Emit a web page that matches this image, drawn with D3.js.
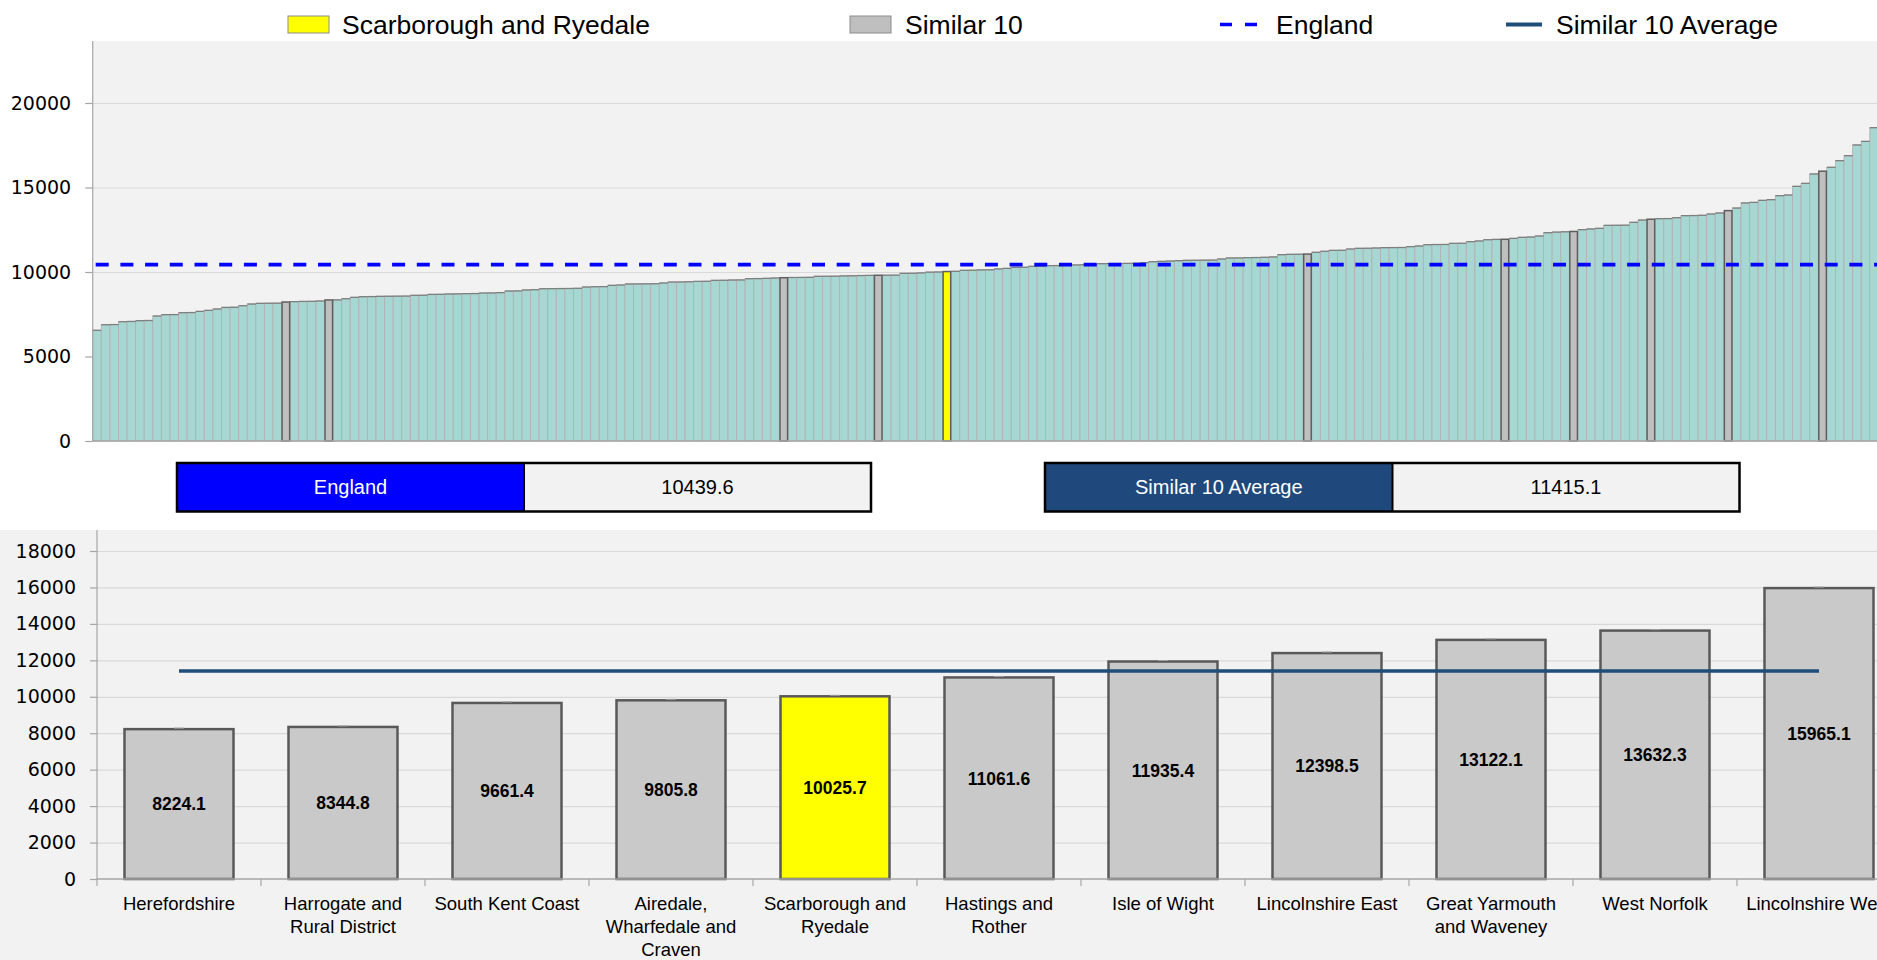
<!DOCTYPE html>
<html>
<head>
<meta charset="utf-8">
<script src="https://cdn.jsdelivr.net/npm/d3@7"></script>
<style>
  html, body { margin: 0; padding: 0; background: #ffffff; overflow: hidden; }
  svg { display: block; }
</style>
</head>
<body>
<svg id="chart" width="1877" height="960"></svg>
<script>
// ---------------- DATA ----------------
const topValues = [
  6550, 6880, 6890, 7060, 7075, 7120, 7130, 7395, 7475, 7480,
  7590, 7600, 7670, 7730, 7810, 7905, 7915, 8005, 8105, 8145,
  8150, 8155, 8224.1, 8245, 8260, 8265, 8285, 8344.8, 8350, 8420,
  8500, 8540, 8545, 8560, 8565, 8570, 8575, 8620, 8625, 8675,
  8680, 8700, 8705, 8720, 8725, 8755, 8760, 8780, 8875, 8880,
  8935, 8955, 9010, 9015, 9020, 9025, 9035, 9110, 9130, 9135,
  9210, 9230, 9290, 9295, 9300, 9305, 9350, 9405, 9410, 9425,
  9445, 9450, 9505, 9510, 9525, 9530, 9605, 9610, 9625, 9645,
  9661.4, 9675, 9680, 9685, 9745, 9748, 9752, 9770, 9775, 9790,
  9800, 9805.8, 9810, 9815, 9920, 9925, 9945, 9990, 10000, 10025.7,
  10040, 10100, 10105, 10125, 10130, 10180, 10215, 10275, 10280, 10335,
  10340, 10375, 10380, 10415, 10418, 10430, 10435, 10493, 10497, 10500,
  10510, 10515, 10555, 10610, 10630, 10650, 10670, 10690, 10695, 10700,
  10705, 10770, 10828, 10832, 10850, 10855, 10870, 10890, 11025, 11045,
  11050, 11061.6, 11165, 11225, 11280, 11285, 11360, 11400, 11405, 11420,
  11440, 11445, 11450, 11500, 11540, 11615, 11625, 11630, 11695, 11700,
  11795, 11835, 11910, 11930, 11935.4, 11990, 12050, 12070, 12130, 12325,
  12360, 12380, 12398.5, 12505, 12545, 12585, 12760, 12765, 12770, 12940,
  13075, 13122.1, 13155, 13160, 13215, 13335, 13340, 13355, 13430, 13490,
  13632.3, 13785, 14085, 14120, 14240, 14280, 14515, 14555, 15070, 15245,
  15800, 15965.1, 16195, 16590, 16885, 17515, 17730, 18540
];
const similarIndices = [22, 27, 80, 91, 141, 164, 172, 181, 190, 201];
const focusIndex = 99;

const similarNames = [
  "Herefordshire", "Harrogate and Rural District", "South Kent Coast",
  "Airedale, Wharfedale and Craven", "Scarborough and Ryedale", "Hastings and Rother",
  "Isle of Wight", "Lincolnshire East", "Great Yarmouth and Waveney",
  "West Norfolk", "Lincolnshire West"
];
const similarLabelLines = [
  ["Herefordshire"], ["Harrogate and", "Rural District"], ["South Kent Coast"],
  ["Airedale,", "Wharfedale and", "Craven"], ["Scarborough and", "Ryedale"],
  ["Hastings and", "Rother"], ["Isle of Wight"], ["Lincolnshire East"],
  ["Great Yarmouth", "and Waveney"], ["West Norfolk"], ["Lincolnshire West"]
];
const similarValues = [8224.1, 8344.8, 9661.4, 9805.8, 10025.7, 11061.6, 11935.4, 12398.5, 13122.1, 13632.3, 15965.1];
const focusName = "Scarborough and Ryedale";

const englandValue = 10439.6;
const similarAverage = 11415.1;

const topTicks = [0, 5000, 10000, 15000, 20000];
const bottomTicks = [0, 2000, 4000, 6000, 8000, 10000, 12000, 14000, 16000, 18000];

const legendLabels = ["Scarborough and Ryedale", "Similar 10", "England", "Similar 10 Average"];

// ---------------- STYLE ----------------
const FONT = "'Liberation Sans', Arial, sans-serif";
const AXFONT = "'DejaVu Sans', Verdana, sans-serif";
const C = {
  teal: "#a6d7d2", tealStroke: "#b2b2b2", tealTop: "#7f7f7f",
  gray: "#bfbfbf", grayStroke: "#5f5f5f",
  yellow: "#ffff00",
  bg: "#f2f2f2", grid: "#d9d9d9", axis: "#a6a6a6",
  england: "#0000ff", avg: "#1f4e79", navy: "#1f497d",
  botGray: "#c9c9c9", botStroke: "#595959"
};

const svg = d3.select("#chart");

// ---------------- LEGEND ----------------
const lg = svg.append("g");
const legY = 24.5;
lg.append("rect").attr("x", 288).attr("y", 16).attr("width", 41).attr("height", 17)
  .attr("fill", C.yellow).attr("stroke", "#8c8c8c").attr("stroke-width", 1);
lg.append("rect").attr("x", 850).attr("y", 16).attr("width", 41).attr("height", 17)
  .attr("fill", C.gray).attr("stroke", "#8c8c8c").attr("stroke-width", 1);
lg.append("line").attr("x1", 1220).attr("x2", 1257).attr("y1", legY).attr("y2", legY)
  .attr("stroke", C.england).attr("stroke-width", 3.5).attr("stroke-dasharray", "12,13");
lg.append("line").attr("x1", 1506).attr("x2", 1542).attr("y1", legY).attr("y2", legY)
  .attr("stroke", C.avg).attr("stroke-width", 4);
const legTextX = [342, 905, 1276, 1556];
legendLabels.forEach((t, i) => {
  lg.append("text").attr("x", legTextX[i]).attr("y", legY)
    .attr("dy", "0.36em").attr("font-family", FONT).attr("font-size", 26.5)
    .attr("fill", "#000").text(t);
});

// ---------------- TOP CHART ----------------
const T = { left: 92.7, top: 41, bottom: 441, right: 1877, step: 8.585 };
const xTop = d3.scaleBand().domain(d3.range(topValues.length))
  .range([T.left, T.left + topValues.length * T.step]).padding(0);
const yTop = d3.scaleLinear().domain([0, 20000]).range([T.bottom, 103]);

const gt = svg.append("g");
gt.append("rect").attr("x", T.left).attr("y", T.top)
  .attr("width", T.right - T.left).attr("height", T.bottom - T.top).attr("fill", C.bg);

// gridlines
gt.append("g").attr("transform", `translate(${T.left},0)`)
  .call(d3.axisLeft(yTop).tickValues(topTicks.slice(1)).tickSize(-(T.right - T.left)).tickFormat(""))
  .call(g => g.select(".domain").remove())
  .call(g => g.selectAll("line").attr("stroke", C.grid).attr("stroke-width", 1.2));

// bars
const kindOf = i => i === focusIndex ? "focus" : (similarIndices.includes(i) ? "similar" : "other");
const topData = topValues.map((v, i) => ({ i, v, kind: kindOf(i) }));

gt.append("g").selectAll("rect.o").data(topData.filter(d => d.kind === "other")).join("rect")
  .attr("x", d => xTop(d.i)).attr("y", d => yTop(d.v))
  .attr("width", xTop.bandwidth()).attr("height", d => yTop(0) - yTop(d.v))
  .attr("fill", C.teal).attr("stroke", C.tealStroke).attr("stroke-width", 0.9);
gt.append("g").selectAll("line").data(topData.filter(d => d.kind === "other")).join("line")
  .attr("x1", d => xTop(d.i)).attr("x2", d => xTop(d.i) + xTop.bandwidth())
  .attr("y1", d => yTop(d.v)).attr("y2", d => yTop(d.v))
  .attr("stroke", C.tealTop).attr("stroke-width", 1.3);
gt.append("g").selectAll("rect").data(topData.filter(d => d.kind !== "other")).join("rect")
  .attr("x", d => xTop(d.i) + 0.5).attr("y", d => yTop(d.v))
  .attr("width", xTop.bandwidth() - 1).attr("height", d => yTop(0) - yTop(d.v))
  .attr("fill", d => d.kind === "focus" ? C.yellow : C.gray)
  .attr("stroke", C.grayStroke).attr("stroke-width", 1.5);

// England line
gt.append("line").attr("x1", T.left + 3).attr("x2", T.right)
  .attr("y1", yTop(englandValue)).attr("y2", yTop(englandValue))
  .attr("stroke", C.england).attr("stroke-width", 3.8).attr("stroke-dasharray", "13,11.7");

// axes
gt.append("line").attr("x1", T.left).attr("x2", T.left).attr("y1", T.top).attr("y2", T.bottom)
  .attr("stroke", C.axis).attr("stroke-width", 1.2);
gt.append("line").attr("x1", T.left).attr("x2", T.right).attr("y1", T.bottom).attr("y2", T.bottom)
  .attr("stroke", C.axis).attr("stroke-width", 1.5);
gt.append("g").attr("transform", `translate(${T.left},0)`)
  .call(d3.axisLeft(yTop).tickValues(topTicks).tickSize(7.5).tickPadding(14).tickFormat(d3.format("d")))
  .call(g => g.select(".domain").remove())
  .call(g => g.selectAll("line").attr("stroke", C.axis).attr("stroke-width", 1.2))
  .call(g => g.selectAll("text").attr("font-family", AXFONT).attr("font-size", 19).attr("fill", "#000"));

// ---------------- INFO BOXES ----------------
function infoBox(x0, xMid, x1, fill, label, value) {
  const g = svg.append("g");
  const y0 = 463, y1 = 511.5;
  g.append("rect").attr("x", x0).attr("y", y0).attr("width", xMid - x0).attr("height", y1 - y0).attr("fill", fill);
  g.append("rect").attr("x", xMid).attr("y", y0).attr("width", x1 - xMid).attr("height", y1 - y0).attr("fill", C.bg);
  g.append("rect").attr("x", x0).attr("y", y0).attr("width", x1 - x0).attr("height", y1 - y0)
    .attr("fill", "none").attr("stroke", "#000").attr("stroke-width", 2.5);
  g.append("line").attr("x1", xMid).attr("x2", xMid).attr("y1", y0).attr("y2", y1)
    .attr("stroke", "#000").attr("stroke-width", 2);
  g.append("text").attr("x", (x0 + xMid) / 2).attr("y", (y0 + y1) / 2).attr("dy", "0.36em")
    .attr("text-anchor", "middle").attr("font-family", FONT).attr("font-size", 20).attr("fill", "#fff").text(label);
  g.append("text").attr("x", (xMid + x1) / 2).attr("y", (y0 + y1) / 2).attr("dy", "0.36em")
    .attr("text-anchor", "middle").attr("font-family", FONT).attr("font-size", 20).attr("fill", "#000").text(value);
}
infoBox(177, 524, 871, C.england, "England", d3.format(".1f")(englandValue));
infoBox(1045, 1392.5, 1739.5, C.navy, "Similar 10 Average", d3.format(".1f")(similarAverage));

// ---------------- BOTTOM CHART ----------------
const B = { left: 97, top: 530, bottom: 879, right: 1877, step: 164 };
const xBot = d3.scaleBand().domain(similarNames)
  .range([B.left, B.left + similarNames.length * B.step])
  .paddingInner(0.3354).paddingOuter(0.1677);
const yBot = d3.scaleLinear().domain([0, 18000]).range([B.bottom, 551]);

const gb = svg.append("g");
gb.append("rect").attr("x", 0).attr("y", B.top).attr("width", B.right).attr("height", 960 - B.top).attr("fill", C.bg);

gb.append("g").attr("transform", `translate(${B.left},0)`)
  .call(d3.axisLeft(yBot).tickValues(bottomTicks.slice(1)).tickSize(-(B.right - B.left)).tickFormat(""))
  .call(g => g.select(".domain").remove())
  .call(g => g.selectAll("line").attr("stroke", C.grid).attr("stroke-width", 1.2));

const botData = similarNames.map((n, i) => ({ n, v: similarValues[i], lines: similarLabelLines[i] }));
gb.append("g").selectAll("rect").data(botData).join("rect")
  .attr("x", d => xBot(d.n)).attr("y", d => yBot(d.v))
  .attr("width", xBot.bandwidth()).attr("height", d => yBot(0) - yBot(d.v))
  .attr("fill", d => d.n === focusName ? C.yellow : C.botGray)
  .attr("stroke", C.botStroke).attr("stroke-width", 2.5);

// tiny error-bar caps
gb.append("g").selectAll("line").data(botData).join("line")
  .attr("x1", d => xBot(d.n) + xBot.bandwidth() / 2 - 5).attr("x2", d => xBot(d.n) + xBot.bandwidth() / 2 + 5)
  .attr("y1", d => yBot(d.v) - 1).attr("y2", d => yBot(d.v) - 1)
  .attr("stroke", "#a0a0a0").attr("stroke-width", 1);

gb.append("g").selectAll("text").data(botData).join("text")
  .attr("x", d => xBot(d.n) + xBot.bandwidth() / 2)
  .attr("y", d => (yBot(d.v) + yBot(0)) / 2).attr("dy", "0.36em")
  .attr("text-anchor", "middle").attr("font-family", FONT).attr("font-weight", "bold")
  .attr("font-size", 17.5).attr("fill", "#000").text(d => d3.format(".1f")(d.v));

// average line
gb.append("line")
  .attr("x1", xBot(similarNames[0]) + xBot.bandwidth() / 2)
  .attr("x2", xBot(similarNames[similarNames.length - 1]) + xBot.bandwidth() / 2)
  .attr("y1", yBot(similarAverage)).attr("y2", yBot(similarAverage))
  .attr("stroke", C.avg).attr("stroke-width", 3.5);

// axes
gb.append("line").attr("x1", B.left).attr("x2", B.left).attr("y1", B.top).attr("y2", B.bottom)
  .attr("stroke", C.axis).attr("stroke-width", 1.2);
gb.append("line").attr("x1", B.left).attr("x2", B.right).attr("y1", B.bottom).attr("y2", B.bottom)
  .attr("stroke", C.axis).attr("stroke-width", 1.5);
gb.append("g").attr("transform", `translate(${B.left},0)`)
  .call(d3.axisLeft(yBot).tickValues(bottomTicks).tickSize(7).tickPadding(14).tickFormat(d3.format("d")))
  .call(g => g.select(".domain").remove())
  .call(g => g.selectAll("line").attr("stroke", C.axis).attr("stroke-width", 1.2))
  .call(g => g.selectAll("text").attr("font-family", AXFONT).attr("font-size", 19).attr("fill", "#000"));

// category boundary ticks
gb.append("g").selectAll("line").data(d3.range(similarNames.length + 1)).join("line")
  .attr("x1", k => B.left + k * xBot.step()).attr("x2", k => B.left + k * xBot.step())
  .attr("y1", B.bottom).attr("y2", B.bottom + 7)
  .attr("stroke", C.axis).attr("stroke-width", 1.2);

// category labels
const lab = gb.append("g").selectAll("text").data(botData).join("text")
  .attr("x", d => xBot(d.n) + xBot.bandwidth() / 2)
  .attr("y", 909.5).attr("text-anchor", "middle")
  .attr("font-family", FONT).attr("font-size", 18.5).attr("fill", "#000");
lab.selectAll("tspan").data(d => d.lines.map(l => ({ l, x: xBot(d.n) + xBot.bandwidth() / 2 }))).join("tspan")
  .attr("x", t => t.x).attr("dy", (t, j) => j === 0 ? 0 : 23.3).text(t => t.l);
</script>
</body>
</html>
